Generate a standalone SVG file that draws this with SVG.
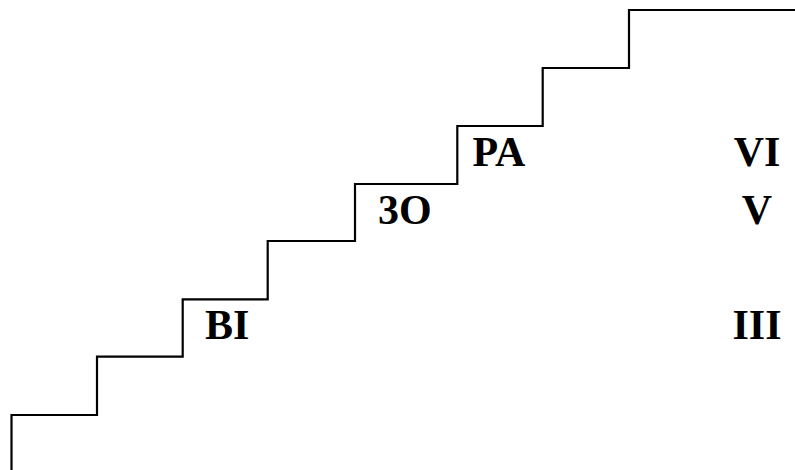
<svg xmlns="http://www.w3.org/2000/svg" width="795" height="470" viewBox="0 0 795 470">
<style>
.t{font-family:"Liberation Serif","Times New Roman",serif;font-weight:bold;font-size:42px;fill:#000}
.s{fill:none;stroke:#000;stroke-width:2.2}
</style>
<rect width="795" height="470" fill="#fff"/>
<g id="stairs">
<path class="s" d="M11.5,470 V415 H97 V356.7 H182.7 V299.3 H267.7 V241 H355 V184 H457.3 V126 H542.7 V68 H629 V10 H795"/>
</g>
<g id="labels">
<text class="t" x="205" y="339">BI</text>
<text class="t" x="378" y="224">3O</text>
<text class="t" x="472.5" y="166">PA</text>
<text class="t" x="757" y="166" text-anchor="middle">VI</text>
<text class="t" x="757" y="224" text-anchor="middle">V</text>
<text class="t" x="757" y="339" text-anchor="middle">III</text>
</g>
</svg>
